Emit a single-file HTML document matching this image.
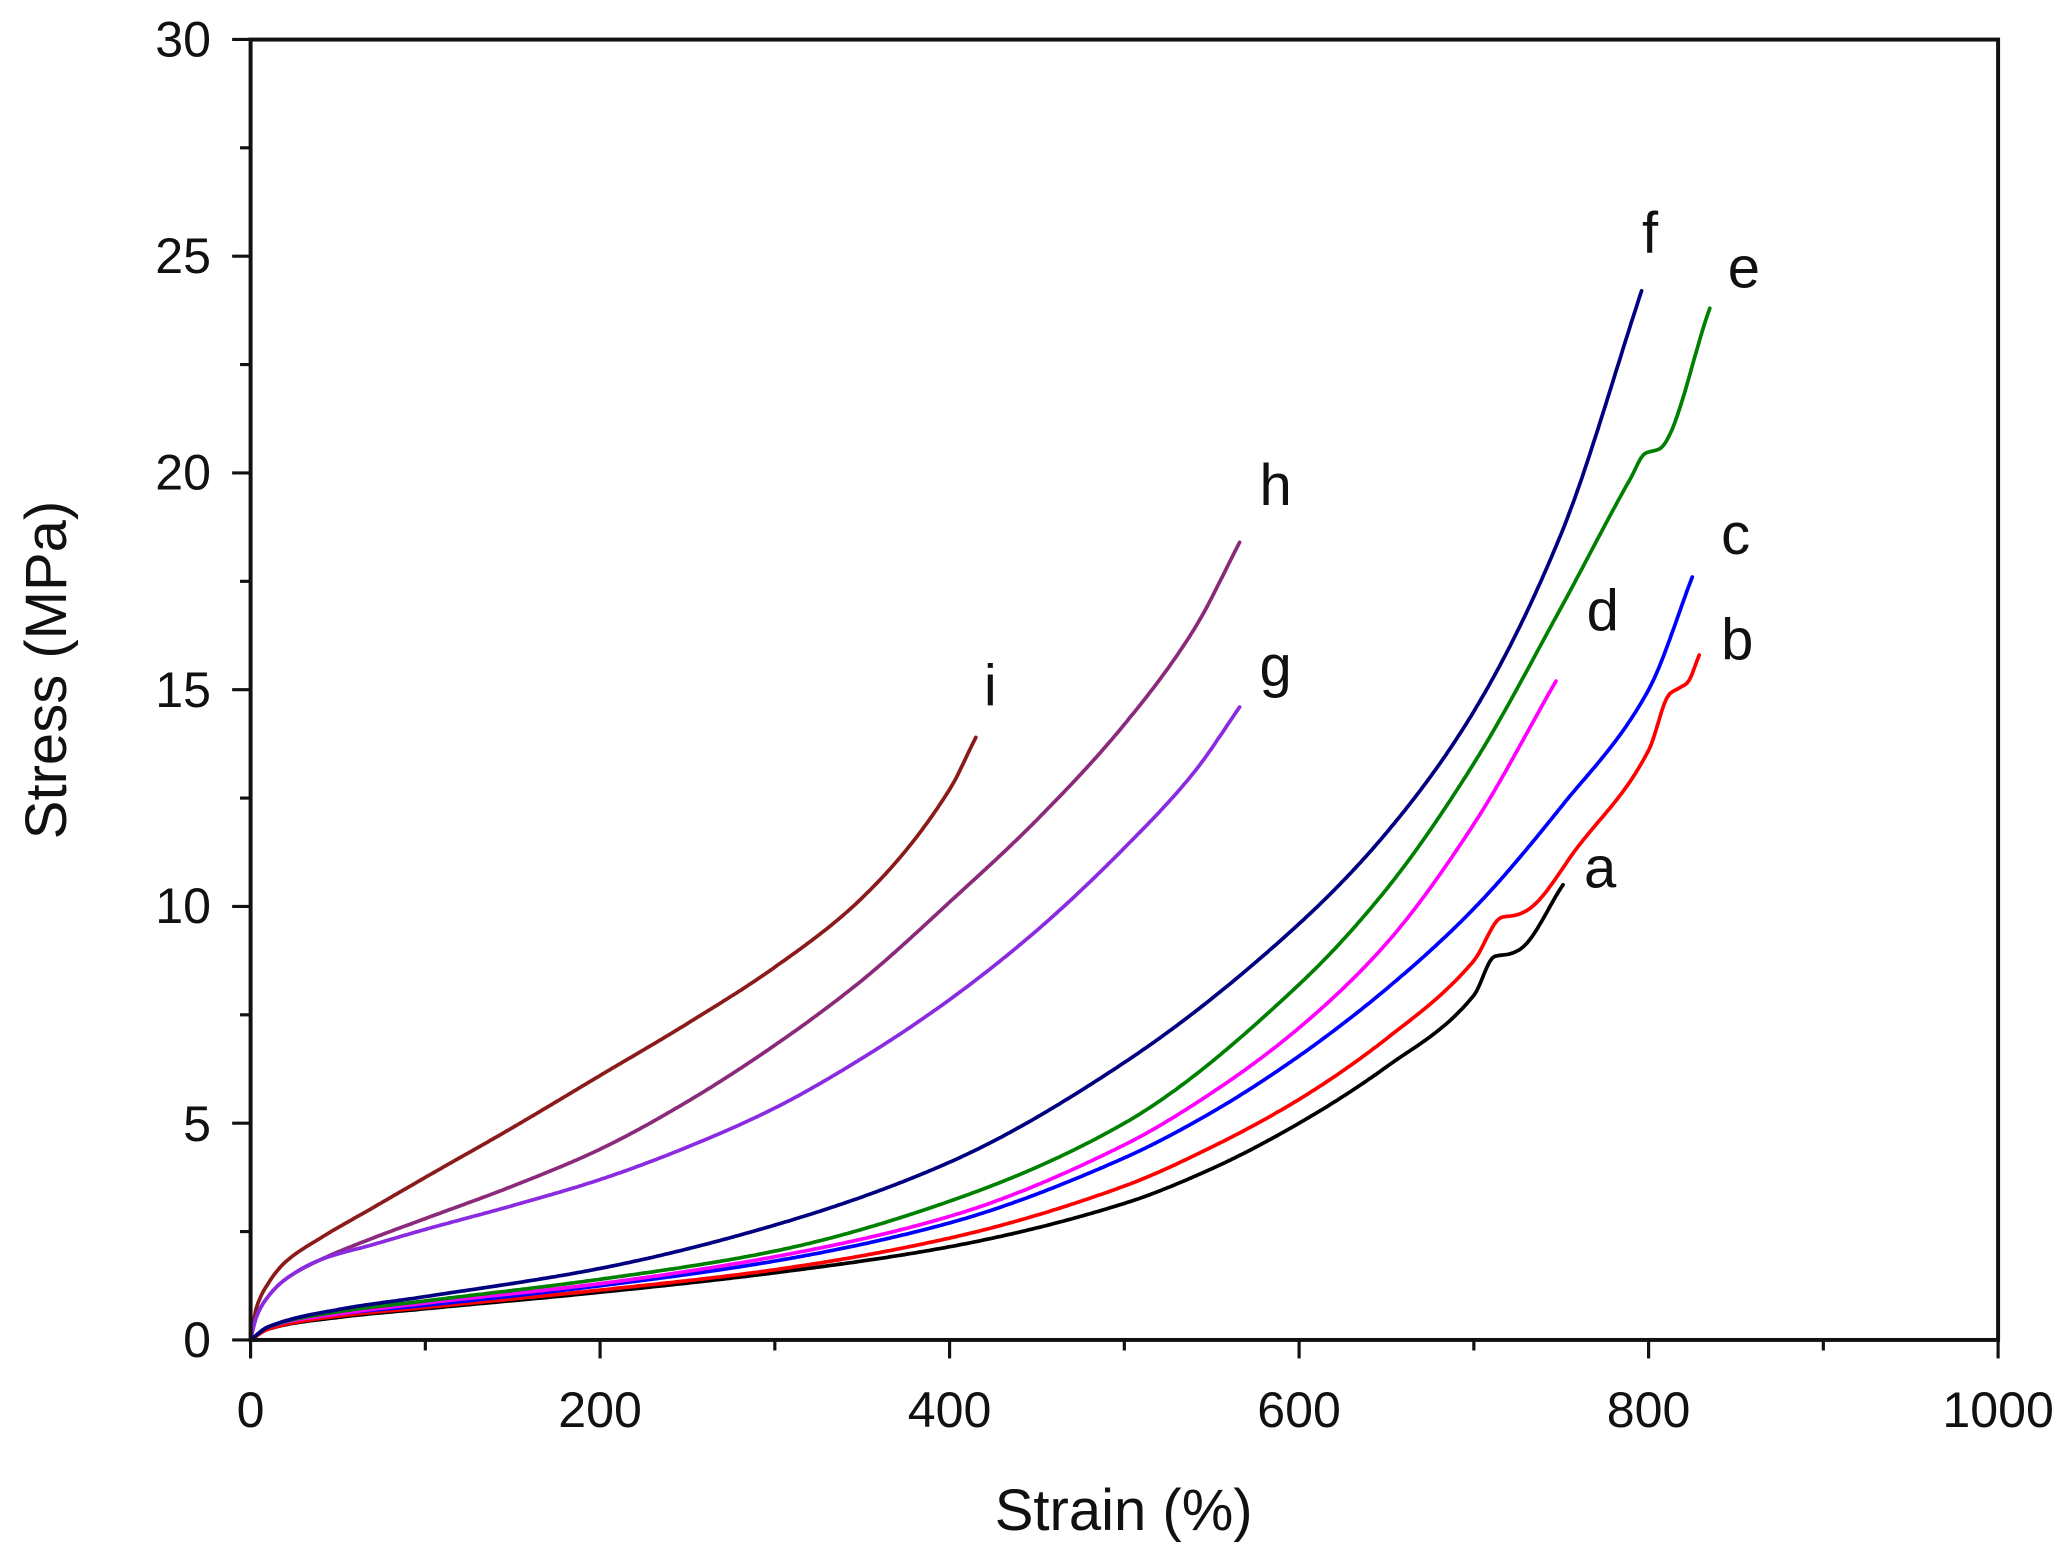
<!DOCTYPE html>
<html><head><meta charset="utf-8"><style>
html,body{margin:0;padding:0;background:#fff}
svg{display:block}
text{font-family:"Liberation Sans",Arial,sans-serif;fill:#111}
</style></head><body>
<svg id="s" width="2068" height="1554" viewBox="0 0 1568 1178.3" preserveAspectRatio="none" xmlns="http://www.w3.org/2000/svg">
<rect x="0" y="0" width="1568" height="1178.3" fill="#fff"/>
<g id="curves" fill="none" stroke-width="2.8" stroke-linejoin="round" stroke-linecap="round"></g>
<rect x="190" y="30" width="1325" height="986" fill="none" stroke="#111" stroke-width="3"/>
<g id="ticks" stroke="#111" stroke-width="2.4"></g>
<g font-size="38">
<text x="160" y="1029" text-anchor="end">0</text>
<text x="160" y="865" text-anchor="end">5</text>
<text x="160" y="700" text-anchor="end">10</text>
<text x="160" y="536" text-anchor="end">15</text>
<text x="160" y="371" text-anchor="end">20</text>
<text x="160" y="207" text-anchor="end">25</text>
<text x="160" y="43" text-anchor="end">30</text>
<text x="190" y="1082" text-anchor="middle">0</text>
<text x="455" y="1082" text-anchor="middle">200</text>
<text x="720" y="1082" text-anchor="middle">400</text>
<text x="985" y="1082" text-anchor="middle">600</text>
<text x="1250" y="1082" text-anchor="middle">800</text>
<text x="1515" y="1082" text-anchor="middle">1000</text>
</g>
<text x="852" y="1160" font-size="44" text-anchor="middle">Strain (%)</text>
<text transform="translate(50,508) rotate(-90)" font-size="44" text-anchor="middle">Stress (MPa)</text>
<g font-size="44">
<text x="1245" y="192">f</text>
<text x="1310" y="218">e</text>
<text x="955" y="383">h</text>
<text x="1305" y="420">c</text>
<text x="1203" y="478">d</text>
<text x="1305" y="500">b</text>
<text x="746" y="535">i</text>
<text x="955" y="520">g</text>
<text x="1201" y="673">a</text>
</g>
</svg>
<script>
var X=function(s){return 190+s*1.325},Y=function(v){return 1016-v*32.87};
var series=[
["#8b1a1a",[[0,0],[3,0.7],[10,1.3],[20,1.8],[40,2.35],[70,3.05],[100,3.75],[150,4.9],[200,6.1],[250,7.3],[300,8.6],[350,10.2],[400,12.7],[415,13.9]]],
["#8b2a7a",[[0,0],[3,0.5],[10,1.0],[20,1.4],[40,1.85],[70,2.35],[100,2.8],[150,3.55],[200,4.4],[250,5.5],[300,6.8],[350,8.3],[400,10.1],[450,12.0],[500,14.2],[540,16.4],[566,18.4]]],
["#8a2be2",[[0,0],[3,0.5],[10,1.0],[20,1.4],[40,1.85],[70,2.2],[100,2.55],[150,3.1],[200,3.7],[250,4.45],[300,5.35],[350,6.5],[400,7.85],[450,9.45],[500,11.35],[540,13.1],[566,14.6]]],
["#000000",[[0,0],[10,0.25],[50,0.52],[100,0.72],[200,1.1],[300,1.55],[400,2.15],[500,3.15],[550,3.95],[600,5.0],[650,6.3],[700,7.95],[712,8.85],[720,8.9],[726,9.0],[751,10.5]]],
["#ff0000",[[0,0],[10,0.25],[50,0.55],[100,0.75],[200,1.15],[300,1.62],[400,2.35],[500,3.55],[550,4.45],[600,5.55],[650,6.95],[700,8.75],[716,9.75],[724,9.8],[730,9.9],[760,11.4],[800,13.6],[812,14.9],[818,15.05],[822,15.15],[829,15.8]]],
["#0000ff",[[0,0],[10,0.3],[50,0.6],[100,0.8],[200,1.25],[300,1.82],[400,2.7],[500,4.2],[550,5.25],[600,6.55],[650,8.1],[700,9.95],[750,12.3],[800,15.0],[825,17.6]]],
["#ff00ff",[[0,0],[10,0.3],[50,0.6],[100,0.85],[200,1.3],[300,1.92],[400,2.85],[500,4.5],[550,5.7],[600,7.2],[650,9.15],[700,11.9],[747,15.2]]],
["#008000",[[0,0],[10,0.3],[50,0.65],[100,0.9],[200,1.4],[300,2.05],[400,3.2],[500,5.0],[600,8.2],[650,10.4],[700,13.3],[750,16.9],[790,19.9],[798,20.45],[806,20.55],[835,23.8]]],
["#000080",[[0,0],[10,0.3],[50,0.7],[100,1.0],[200,1.65],[300,2.65],[400,4.1],[500,6.4],[600,9.6],[650,11.7],[700,14.5],[750,18.6],[796,24.2]]]
];
function mono(pts){
 var n=pts.length,xs=pts.map(function(p){return p[0]}),ys=pts.map(function(p){return p[1]});
 var d=[],m=[];
 for(var i=0;i<n-1;i++)d.push((ys[i+1]-ys[i])/(xs[i+1]-xs[i]));
 m[0]=d[0];m[n-1]=d[n-2];
 for(var i=1;i<n-1;i++){ if(d[i-1]*d[i]<=0)m[i]=0; else {var w1=2*(xs[i+1]-xs[i])+(xs[i]-xs[i-1]),w2=(xs[i+1]-xs[i])+2*(xs[i]-xs[i-1]);m[i]=(w1+w2)/(w1/d[i-1]+w2/d[i]);} }
 var out=[];
 for(var i=0;i<n-1;i++){
  var h=xs[i+1]-xs[i],steps=Math.max(2,Math.ceil(h/1.5));
  for(var k=0;k<steps;k++){
   var t=k/steps,t2=t*t,t3=t2*t;
   var y=(2*t3-3*t2+1)*ys[i]+(t3-2*t2+t)*h*m[i]+(-2*t3+3*t2)*ys[i+1]+(t3-t2)*h*m[i+1];
   out.push([xs[i]+t*h,y]);
  }
 }
 out.push(pts[n-1]);return out;
}
var g=document.getElementById('curves'),NS="http://www.w3.org/2000/svg";
series.forEach(function(sr){
 var p=mono(sr[1]);
 var d=p.map(function(q,i){return (i?"L":"M")+X(q[0]).toFixed(1)+","+Y(q[1]).toFixed(1)}).join("");
 var e=document.createElementNS(NS,"path");e.setAttribute("d",d);e.setAttribute("stroke",sr[0]);g.appendChild(e);
});
var t=document.getElementById('ticks'),h="";
for(var i=0;i<=10;i++){var x=X(i*100);h+='<line x1="'+x+'" y1="1016" x2="'+x+'" y2="'+(i%2?1024:1030)+'"/>';}
for(var j=0;j<=12;j++){var y=Y(j*2.5);h+='<line x1="190" y1="'+y+'" x2="'+(j%2?182:176)+'" y2="'+y+'"/>';}
t.innerHTML=h;
</script>
</body></html>
